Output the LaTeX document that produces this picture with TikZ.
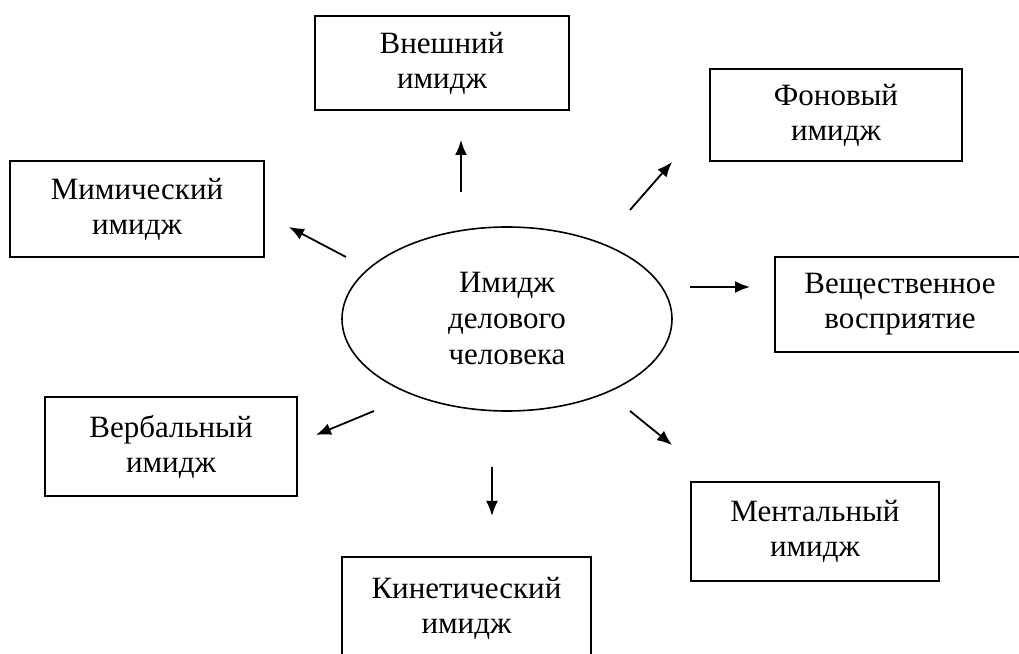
\documentclass[tikz,border=0pt]{standalone}
\usepackage{fontspec}
\setmainfont{Liberation Serif}
\usetikzlibrary{arrows.meta,shapes.geometric}
\begin{document}
\begin{tikzpicture}[x=1pt,y=1pt,
  box/.style={draw,line width=1.8pt,align=center,inner sep=0pt,
    font=\fontsize{31}{35}\selectfont},
  oval/.style={draw,ellipse,line width=1.6pt,align=center,inner sep=0pt,
    minimum width=330pt,minimum height=184pt,font=\fontsize{31}{36}\selectfont},
  arr/.style={line width=1.8pt,-{Latex[length=15pt,width=12pt]}}]
\useasboundingbox (0,0) rectangle (1019,653);
\node[oval] (c) at (507,334) {Имидж\\делового\\человека};
\node[box,minimum width=254pt,minimum height=94pt] (vn) at (442,590) {Внешний\\имидж};
\node[box,minimum width=252pt,minimum height=92pt] (fon) at (836,538) {Фоновый\\имидж};
\node[box,minimum width=254pt,minimum height=96pt] (mim) at (137,444) {Мимический\\имидж};
\node[box,minimum width=250pt,minimum height=95pt] (ves) at (900,348.5) {Вещественное\\восприятие};
\node[box,minimum width=252pt,minimum height=99pt] (ver) at (171,206.5) {Вербальный\\имидж};
\node[box,minimum width=248pt,minimum height=99pt] (men) at (815,121.5) {Ментальный\\имидж};
\node[box,minimum width=249pt,minimum height=103pt] (kin) at (466.5,44.5) {Кинетический\\имидж};
\coordinate (a1s) at (461,461); \coordinate (a1e) at (461,513);
\coordinate (a2s) at (630,443); \coordinate (a2e) at (672,491);
\coordinate (a3s) at (346,396); \coordinate (a3e) at (289,426);
\coordinate (a4s) at (690,366); \coordinate (a4e) at (750,366);
\coordinate (a5s) at (374,242); \coordinate (a5e) at (316,218);
\coordinate (a6s) at (492,186); \coordinate (a6e) at (492,137);
\coordinate (a7s) at (630,242); \coordinate (a7e) at (672,208);
\draw[arr] (a1s) -- (a1e);
\draw[arr] (a2s) -- (a2e);
\draw[arr] (a3s) -- (a3e);
\draw[arr] (a4s) -- (a4e);
\draw[arr] (a5s) -- (a5e);
\draw[arr] (a6s) -- (a6e);
\draw[arr] (a7s) -- (a7e);
\end{tikzpicture}
\end{document}
